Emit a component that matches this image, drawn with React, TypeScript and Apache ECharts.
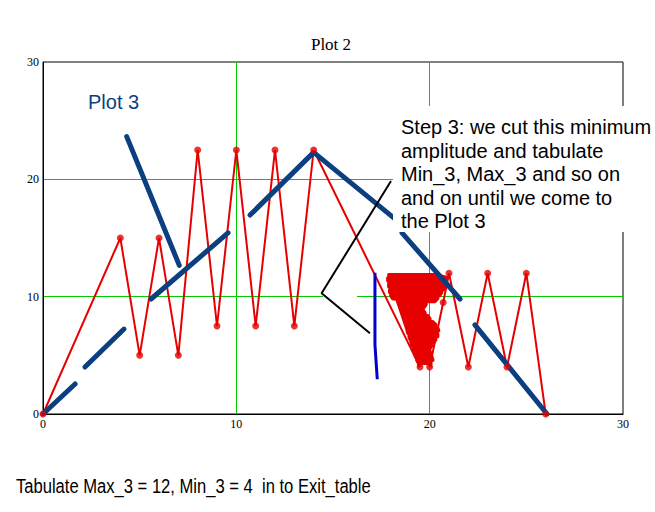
import React, { useEffect, useRef } from "react";
import * as echarts from "echarts";

// ---- data ----
const axisMin = 0;
const axisMax = 30;
const axisStep = 10;

// main red zig-zag (Plot 2) up to the start of the scribble
const redX = [0, 4, 5, 6, 7, 8, 9, 10, 11, 12, 13, 14, 19.5];
const redY = [0, 15, 5, 15, 5, 22.5, 7.5, 22.5, 7.5, 22.5, 7.5, 22.5, 4];
// red tail after the scribble
const tailX = [20, 20.7, 21, 22, 23, 24, 25, 26];
const tailY = [4, 9.5, 12, 4, 12, 4, 12, 0];
// hand-drawn red scribble (rows: y, left edge x, right edge x)
const scribbleY = [11.85, 11.6, 11.35, 11.1, 10.85, 10.6, 10.35, 10.1, 9.85, 9.6, 9.35, 9.1, 8.85, 8.6, 8.35, 8.1, 7.85, 7.6, 7.35, 7.1, 6.85, 6.6, 6.35, 6.1, 5.85, 5.6, 5.35, 5.1, 4.85, 4.6, 4.35];
const scribbleLeft = [17.9, 17.85, 17.85, 17.9, 17.9, 17.95, 17.95, 18.0, 18.1, 18.35, 18.45, 18.5, 18.55, 18.6, 18.65, 18.7, 18.75, 18.8, 18.85, 18.85, 18.9, 18.95, 19.0, 19.05, 19.1, 19.15, 19.2, 19.25, 19.3, 19.35, 19.45];
const scribbleRight = [20.3, 20.9, 20.85, 20.8, 20.75, 20.7, 20.6, 20.5, 20.4, 20.25, 19.8, 19.7, 19.65, 19.75, 19.9, 20.0, 20.15, 20.3, 20.4, 20.45, 20.4, 20.4, 20.3, 20.2, 20.1, 20.0, 20.0, 20.05, 20.1, 20.15, 20.05];

// Plot 3 (thick navy hand-drawn segments)
const navySeg1 = [[0, 0], [1.66, 2.56]];
const navySeg2 = [[2.17, 4.01], [4.19, 7.24]];
const navySeg3 = [[5.59, 9.8], [9.57, 15.43]];
const navySeg4 = [[10.71, 16.96], [14, 22.3], [18.6, 16.1]];
const navySeg5 = [[18.57, 15.43], [21.57, 9.8]];
const navySeg6 = [[22.34, 7.59], [26.07, 0]];
const navySeg7 = [[4.33, 23.64], [7.05, 12.67]];

// black pointer and blue cut line
const pointerLine = [[18.0, 19.85], [14.41, 10.29], [16.91, 6.88]];
const cutLine = [[17.17, 12.04], [17.17, 5.9], [17.29, 2.96]];

const titleText = "Plot 2";
const plot3Label = "Plot 3";
const stepLines = [
  "Step 3: we cut this minimum",
  "amplitude and tabulate",
  "Min_3, Max_3 and so on",
  "and on until we come to",
  "the Plot 3",
];
const footerText = "Tabulate Max_3 = 12, Min_3 = 4  in to Exit_table";

const RED = "#E60000";
const NAVY = "#0B3F80";
const GREEN = "#00CC00";

export default function App() {
  const ref = useRef<HTMLDivElement>(null);

  useEffect(() => {
    if (!ref.current) return;
    const chart = echarts.init(ref.current, undefined, { renderer: "svg" });

    const redPts = redX.map((x, i) => [x, redY[i]]);
    const tailPts = tailX.map((x, i) => [x, tailY[i]]);
    const scribblePts: number[][] = [[redX[redX.length - 1], redY[redY.length - 1]]];
    scribbleY.forEach((y, i) => {
      if (i % 2 === 0) {
        scribblePts.push([scribbleLeft[i], y]);
        scribblePts.push([scribbleRight[i], y]);
      } else {
        scribblePts.push([scribbleRight[i], y]);
        scribblePts.push([scribbleLeft[i], y]);
      }
    });
    scribblePts.push([tailX[0], tailY[0]]);
    const markerPts = [...redPts, ...tailPts];

    const navySegs = [navySeg1, navySeg2, navySeg3, navySeg4, navySeg5, navySeg6, navySeg7];

    const axisCommon = {
      type: "value" as const,
      min: axisMin,
      max: axisMax,
      interval: axisStep,
      axisLine: { show: true, lineStyle: { color: "#000", width: 1 } },
      axisTick: { show: false },
      axisLabel: {
        color: "#000",
        fontFamily: "Liberation Serif, Times New Roman, serif",
        fontSize: 12,
        margin: 4,
      },
      splitLine: {
        show: true,
        showMinLine: false,
        showMaxLine: false,
        lineStyle: { color: GREEN, width: 1 },
      },
    };

    const sansFont = "Liberation Sans, Arial, sans-serif";

    chart.setOption({
      animation: false,
      backgroundColor: "#fff",
      grid: {
        left: 43,
        right: 32,
        top: 62,
        bottom: 98,
        show: true,
        borderColor: "#000",
        borderWidth: 1,
        backgroundColor: "transparent",
      },
      xAxis: axisCommon,
      yAxis: axisCommon,
      series: [
        {
          type: "line",
          data: redPts,
          symbol: "none",
          lineStyle: { color: RED, width: 2 },
          z: 2,
        },
        {
          type: "line",
          data: scribblePts,
          symbol: "none",
          lineStyle: { color: RED, width: 4, join: "round" },
          z: 2,
        },
        {
          type: "line",
          data: tailPts,
          symbol: "none",
          lineStyle: { color: RED, width: 2 },
          z: 2,
        },
        ...navySegs.map((seg) => ({
          type: "line",
          data: seg,
          symbol: "none",
          lineStyle: { color: NAVY, width: 5, cap: "round" },
          z: 3,
        })),
        {
          type: "scatter",
          data: markerPts,
          symbol: "circle",
          symbolSize: 7,
          itemStyle: { color: RED },
          z: 4,
        },
        {
          type: "line",
          data: pointerLine,
          symbol: "none",
          lineStyle: { color: "#000", width: 2 },
          z: 5,
        },
        {
          type: "line",
          data: cutLine,
          symbol: "none",
          lineStyle: { color: "#0000CC", width: 3 },
          z: 5,
        },
      ],
      graphic: [
        {
          type: "rect",
          z: 1,
          shape: { x: 323, y: 294, width: 34, height: 6 },
          style: { fill: "#fff" },
        },
        {
          type: "rect",
          z: 50,
          shape: { x: 393, y: 106, width: 262, height: 126 },
          style: { fill: "#fff" },
        },
        {
          type: "text",
          z: 60,
          x: 331,
          y: 44,
          style: {
            text: titleText,
            font: "17px Liberation Serif, Times New Roman, serif",
            fill: "#000",
            textAlign: "center",
            textVerticalAlign: "middle",
          },
        },
        {
          type: "text",
          z: 60,
          x: 88,
          y: 102,
          style: {
            text: plot3Label,
            font: "20px " + sansFont,
            fill: NAVY,
            textAlign: "left",
            textVerticalAlign: "middle",
          },
        },
        ...stepLines.map((line, i) => ({
          type: "text",
          z: 60,
          x: 401,
          y: 127.3 + i * 23.4,
          style: {
            text: line,
            font: "20px " + sansFont,
            fill: "#000",
            textAlign: "left",
            textVerticalAlign: "middle",
          },
        })),
        {
          type: "text",
          z: 60,
          x: 16,
          y: 485.4,
          scaleX: 0.79,
          style: {
            text: footerText,
            font: "21px " + sansFont,
            fill: "#000",
            textAlign: "left",
            textVerticalAlign: "middle",
          },
        },
      ],
    });

    return () => chart.dispose();
  }, []);

  return (
    <div
      ref={ref}
      style={{ position: "fixed", left: 0, top: 0, width: 655, height: 512, background: "#fff" }}
    />
  );
}
